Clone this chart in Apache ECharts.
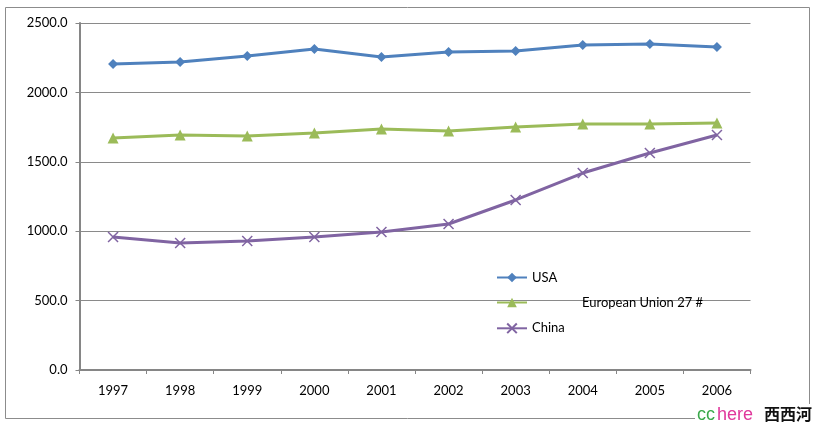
<!DOCTYPE html>
<html>
<head>
<meta charset="utf-8">
<script src="https://cdn.jsdelivr.net/npm/echarts@6/dist/echarts.min.js"></script>
<style>html,body{margin:0;padding:0;background:#fff;}#c{width:819px;height:429px;}</style>
</head>
<body>
<div id="c"></div>
<script>
const years = ['1997','1998','1999','2000','2001','2002','2003','2004','2005','2006'];
const usa = [2205, 2219, 2262, 2313, 2255, 2291, 2298, 2341, 2349, 2327];
const eu27 = [1671, 1693, 1686, 1707, 1736, 1722, 1751, 1772, 1772, 1780];
const china = [958, 915, 929, 958, 994, 1052, 1225, 1419, 1563, 1693];
const seriesNames = ['USA', 'European Union 27 #', 'China'];

const font = 'Lato, "Open Sans", sans-serif';
const chart = echarts.init(document.getElementById('c'), null, {renderer: 'canvas'});
chart.setOption({
  animation: false,
  backgroundColor: '#fff',
  textStyle: {fontFamily: font},
  grid: {left: 79.5, right: 68.5, top: 23, bottom: 59},
  legend: {
    orient: 'vertical', left: 491, top: 266, itemGap: 12,
    itemWidth: 30, itemHeight: 12,
    data: seriesNames,
    textStyle: {fontFamily: font, fontSize: 13, color: '#000',
      rich: {gap: {width: 50}, t: {fontFamily: font, fontSize: 13, color: '#000'}}},
    formatter: function (n) { return n === seriesNames[1] ? '{gap|}{t|' + n + '}' : n; }
  },
  xAxis: {
    type: 'category', data: years, boundaryGap: true,
    axisLine: {lineStyle: {color: '#868686', width: 2}},
    axisTick: {show: true, length: 4, lineStyle: {color: '#868686'}},
    axisLabel: {color: '#000', fontSize: 13, fontFamily: font, margin: 14}
  },
  yAxis: {
    type: 'value', min: 0, max: 2500, interval: 500,
    axisLine: {show: true, lineStyle: {color: '#868686', width: 2}},
    axisTick: {show: true, length: 4, lineStyle: {color: '#868686'}},
    splitLine: {lineStyle: {color: '#8a8a8a', width: 1}},
    axisLabel: {color: '#000', fontSize: 13, fontFamily: font, margin: 12,
      formatter: v => v.toFixed(1)}
  },
  series: [
    {name: seriesNames[0], type: 'line', data: usa, symbol: 'diamond', symbolSize: 10,
     color: '#4F81BD', lineStyle: {width: 3, color: '#4F81BD'}, itemStyle: {color: '#4F81BD'}},
    {name: seriesNames[1], type: 'line', data: eu27, symbol: 'triangle', symbolSize: 11,
     color: '#9BBB59', lineStyle: {width: 3, color: '#9BBB59'}, itemStyle: {color: '#9BBB59'}},
    {name: seriesNames[2], type: 'line', data: china, symbol: 'path://M0,0L10,10M10,0L0,10', symbolSize: 10,
     color: '#8064A2', lineStyle: {width: 3, color: '#8064A2'},
     itemStyle: {color: 'none', borderColor: '#8064A2', borderWidth: 1.5}}
  ],
  graphic: [
    {type: 'rect', shape: {x: 5.5, y: 7.5, width: 804, height: 411}, silent: true, z: -1,
     style: {fill: 'none', stroke: '#8c8c8c', lineWidth: 1}},
    {type: 'rect', shape: {x: 695, y: 404, width: 124, height: 25}, silent: true, z: 10,
     style: {fill: '#fff'}},
    {type: 'text', left: 697, top: 406, z: 11, style: {text: 'cc', fill: '#3aa84a', font: '18px Arial, "Liberation Sans", sans-serif'}},
    {type: 'text', left: 717, top: 406, z: 11, style: {text: 'here', fill: '#e0389b', font: '18px Arial, "Liberation Sans", sans-serif'}},
    {type: 'text', left: 764, top: 406, z: 11, style: {text: '西西河', fill: '#111', font: 'bold 16px "Noto Sans CJK SC", sans-serif'}}
  ]
});
</script>
</body>
</html>
